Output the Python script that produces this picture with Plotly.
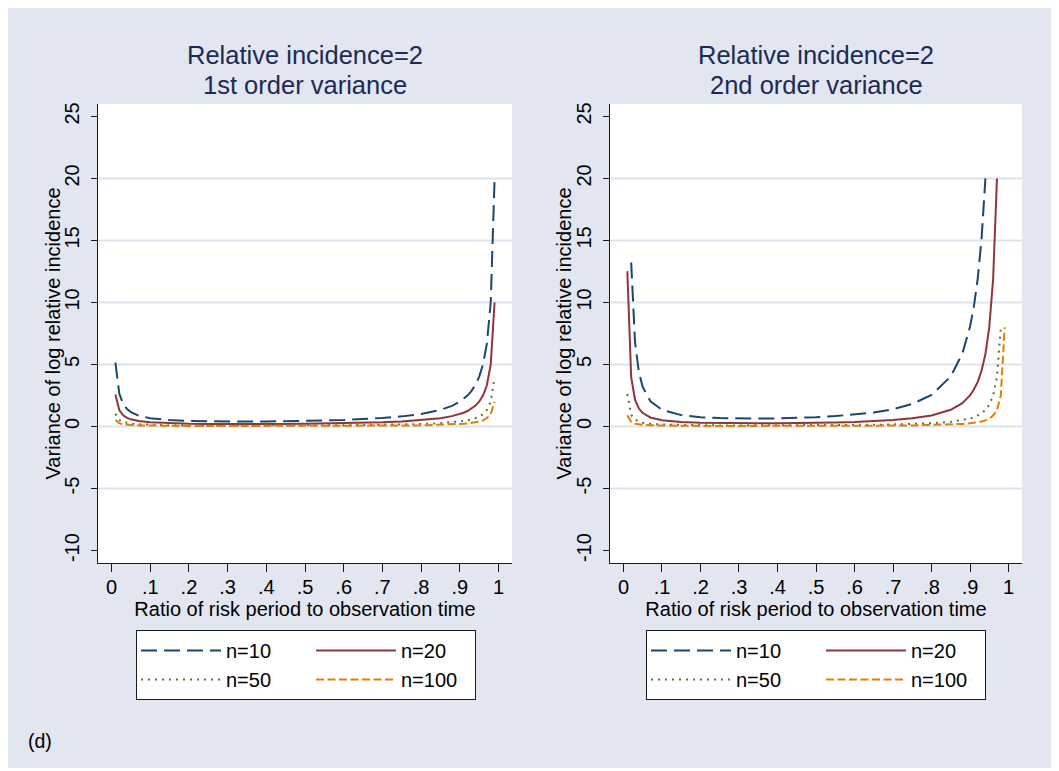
import plotly.graph_objects as go

# ---------------- data ----------------
ratio = [0.01, 0.02, 0.03, 0.04, 0.05, 0.07, 0.10, 0.15, 0.20, 0.25, 0.30, 0.35,
         0.40, 0.45, 0.50, 0.55, 0.60, 0.65, 0.70, 0.75, 0.80, 0.85, 0.88, 0.90,
         0.91, 0.92, 0.93, 0.94, 0.95, 0.96, 0.97, 0.98, 0.99]

# Panel 1: 1st order variance
p1_n10 = [5.15, 2.65, 1.82, 1.41, 1.16, 0.88, 0.67, 0.52, 0.45, 0.42, 0.40, 0.40,
          0.41, 0.42, 0.45, 0.49, 0.53, 0.60, 0.69, 0.82, 1.01, 1.34, 1.67, 2.01,
          2.23, 2.50, 2.86, 3.34, 4.00, 5.00, 6.67, 10.0, 20.0]
p1_n20 = [2.58, 1.33, 0.91, 0.70, 0.58, 0.44, 0.34, 0.26, 0.225, 0.21, 0.20, 0.20,
          0.20, 0.21, 0.225, 0.24, 0.27, 0.30, 0.34, 0.41, 0.51, 0.67, 0.84, 1.00,
          1.11, 1.25, 1.43, 1.67, 2.00, 2.50, 3.33, 5.00, 10.0]
p1_n50 = [1.03, 0.53, 0.36, 0.28, 0.23, 0.18, 0.13, 0.10, 0.09, 0.083, 0.080, 0.080,
          0.082, 0.085, 0.09, 0.097, 0.107, 0.12, 0.138, 0.163, 0.20, 0.27, 0.33, 0.40,
          0.45, 0.50, 0.57, 0.67, 0.80, 1.00, 1.33, 2.00, 4.00]
p1_n100 = [0.52, 0.27, 0.18, 0.14, 0.12, 0.09, 0.067, 0.052, 0.045, 0.042, 0.040, 0.040,
           0.041, 0.042, 0.045, 0.049, 0.053, 0.060, 0.069, 0.082, 0.10, 0.13, 0.17, 0.20,
           0.22, 0.25, 0.29, 0.33, 0.40, 0.50, 0.67, 1.00, 2.00]

# Panel 2: 2nd order variance (values above 20 not shown)
p2_n10 = [None, 13.22, 6.81, 4.38, 3.18, 2.04, 1.35, 0.92, 0.75, 0.68, 0.64, 0.64,
          0.66, 0.70, 0.75, 0.84, 0.96, 1.13, 1.40, 1.82, 2.55, 4.04, 5.88, 8.04,
          9.67, 11.91, 15.14, 20.0, None, None, None, None, None]
p2_n20 = [12.53, 3.97, 2.16, 1.45, 1.09, 0.73, 0.51, 0.36, 0.30, 0.27, 0.26, 0.26,
          0.27, 0.28, 0.30, 0.33, 0.37, 0.43, 0.52, 0.66, 0.89, 1.35, 1.89, 2.51,
          2.98, 3.60, 4.50, 5.84, 8.01, 11.88, 20.0, None, None]
p2_n50 = [2.62, 0.95, 0.57, 0.40, 0.31, 0.22, 0.16, 0.12, 0.10, 0.093, 0.090, 0.090,
          0.092, 0.096, 0.10, 0.11, 0.124, 0.142, 0.167, 0.20, 0.265, 0.38, 0.50, 0.64,
          0.74, 0.88, 1.06, 1.33, 1.76, 2.50, 4.00, 8.00, None]
p2_n100 = [0.91, 0.37, 0.23, 0.17, 0.14, 0.10, 0.074, 0.056, 0.048, 0.045, 0.042, 0.042,
           0.044, 0.045, 0.048, 0.053, 0.057, 0.065, 0.076, 0.092, 0.116, 0.16, 0.21, 0.26,
           0.30, 0.34, 0.41, 0.50, 0.64, 0.88, 1.33, 2.50, 8.00]

series_names = ["n=10", "n=20", "n=50", "n=100"]
panel_titles = [["Relative incidence=2", "1st order variance"],
                ["Relative incidence=2", "2nd order variance"]]
x_tickvals = [0, 0.1, 0.2, 0.3, 0.4, 0.5, 0.6, 0.7, 0.8, 0.9, 1]
x_ticktext = ["0", ".1", ".2", ".3", ".4", ".5", ".6", ".7", ".8", ".9", "1"]
y_tickvals = [-10, -5, 0, 5, 10, 15, 20, 25]
y_ticktext = ["-10", "-5", "0", "5", "10", "15", "20", "25"]
grid_vals = [-5, 0, 5, 10, 15, 20]
x_title = "Ratio of risk period to observation time"
y_title = "Variance of log relative incidence"
note = "(d)"

# ---------------- styling ----------------
OFF = 8                      # page offset of the figure (body margin)
W, H = 1048, 760             # figure size (leaves a thin white frame right/bottom)
L, T = 98 - OFF, 104 - OFF
R = W - (1022 - OFF)
B = H - (563 - OFF)
PW, PH = W - L - R, H - T - B
FONT = "Liberation Sans, Arial, Helvetica, sans-serif"
BG = "#E1E6F0"
GRID = "#DDE3EE"
AX = "#1a1a1a"
styles = [dict(color="#1A476F", dash="16px,7px"),
          dict(color="#90353B", dash="solid"),
          dict(color="#55752F", dash="2px,5px"),
          dict(color="#E37E00", dash="8px,3.5px")]
legend_widths = [80, 69, 80, 69]


def px_x(page_px):
    return (page_px - OFF - L) / PW


def px_y(page_px):
    return (H - B - (page_px - OFF)) / PH


fig = go.Figure()
panels = [[p1_n10, p1_n20, p1_n50, p1_n100], [p2_n10, p2_n20, p2_n50, p2_n100]]
groups = [["a", "b", "a", "b"], ["c", "d", "c", "d"]]
for pi, data in enumerate(panels):
    for si, ys in enumerate(data):
        fig.add_trace(go.Scatter(
            x=ratio, y=ys, mode="lines", name=series_names[si],
            line=dict(color=styles[si]["color"], dash=styles[si]["dash"], width=2),
            xaxis="x" if pi == 0 else "x2", yaxis="y" if pi == 0 else "y2",
            legend="legend" if pi == 0 else "legend2",
            legendgroup=groups[pi][si], legendwidth=legend_widths[si],
            hoverinfo="x+y+name"))

domains = [[0, px_x(512)], [px_x(610), 1]]
ytitle_x = [52, 563]
for i in range(2):
    sx = "" if i == 0 else "2"
    fig.update_layout(**{
        "xaxis" + sx: dict(
            domain=domains[i], range=[-0.035, 1.035], anchor="y" + sx,
            tickmode="array", tickvals=x_tickvals, ticktext=x_ticktext,
            ticks="outside", ticklen=8, tickwidth=1, tickcolor=AX, ticklabelstandoff=-2,
            showline=True, linecolor=AX, linewidth=1, showgrid=False, zeroline=False,
            tickfont=dict(size=20, color="black", family=FONT),
            title=dict(text=x_title, font=dict(size=20, color="black", family=FONT), standoff=0)),
        "yaxis" + sx: dict(
            domain=[0, 1], range=[-11, 26], anchor="x" + sx,
            tickmode="array", tickvals=y_tickvals, ticktext=y_ticktext, tickangle=-90,
            ticks="outside", ticklen=6, tickwidth=1, tickcolor=AX, ticklabelstandoff=4,
            showline=True, linecolor=AX, linewidth=1, showgrid=False, zeroline=False,
            tickfont=dict(size=20, color="black", family=FONT)),
    })
    for g in grid_vals:
        fig.add_shape(type="line", xref="x%s domain" % sx, yref="y" + sx,
                      x0=0, x1=1, y0=g, y1=g, layer="below",
                      line=dict(color=GRID, width=2))
    # y axis title
    fig.add_annotation(text=y_title, xref="paper", yref="paper",
                       x=px_x(ytitle_x[i]), y=0.5, textangle=-90,
                       xanchor="center", yanchor="middle", showarrow=False,
                       font=dict(size=20, color="black", family=FONT))
    # panel title (two lines)
    cx = (domains[i][0] + domains[i][1]) / 2
    for line_text, ypix in zip(panel_titles[i], [55, 85]):
        fig.add_annotation(text=line_text, xref="paper", yref="paper", x=cx, y=px_y(ypix),
                           xanchor="center", yanchor="middle", showarrow=False,
                           font=dict(size=25.5, color="#1C2A55", family=FONT))

leg_common = dict(orientation="h", xanchor="left", yanchor="top", y=px_y(630),
                  bgcolor="white", bordercolor=AX, borderwidth=1,
                  font=dict(size=20, color="black", family=FONT),
                  itemwidth=80, tracegroupgap=0)
fig.update_layout(
    legend=dict(x=px_x(136), **leg_common),
    legend2=dict(x=px_x(646), **leg_common),
)

fig.add_annotation(text=note, xref="paper", yref="paper", x=px_x(26), y=px_y(741),
                   xanchor="left", yanchor="middle", showarrow=False,
                   font=dict(size=19.5, color="black", family=FONT))

fig.update_layout(
    width=W, height=H, margin=dict(l=L, r=R, t=T, b=B, autoexpand=False),
    paper_bgcolor=BG, plot_bgcolor="white", showlegend=True,
    font=dict(family=FONT, color="black"),
)

fig.write_html("out.html")
